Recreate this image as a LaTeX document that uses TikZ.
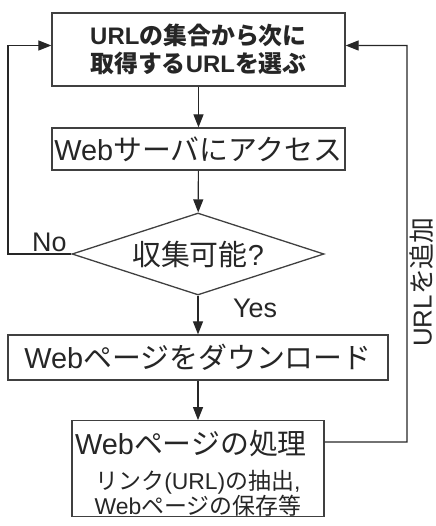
\documentclass[tikz,border=0pt]{standalone}
\usepackage{fontspec}
\setmainfont{Liberation Sans}
\newfontfamily\jpfont{Noto Sans CJK JP}
\newcommand{\jtxt}[1]{{\jpfont #1}}
\usetikzlibrary{shapes.geometric,arrows.meta,calc}
\begin{document}
\begin{tikzpicture}[x=1bp,y=-1bp,
  line/.style={draw=black!85,line width=1.2bp},
  arr/.style={line,-{Triangle[length=13bp,width=10bp]}},
  stepbox/.style={draw=black!75,line width=1.3bp,fill=white,inner sep=0pt,
    align=center,text=black!85},
  big/.style={font=\fontsize{29}{31}\selectfont},
  lbl/.style={font=\fontsize{27}{29}\selectfont,text=black!85,inner sep=0pt}]
\useasboundingbox (0,0) rectangle (436,526);

% process steps
\node[stepbox,minimum width=293bp,minimum height=73bp,
      font=\fontsize{24}{28}\selectfont\bfseries] (b1) at (198.5,49.5)
  {URL\jtxt{の集合から次に}\\\jtxt{取得する}URL\jtxt{を選ぶ}};
\node[stepbox,big,minimum width=293bp,minimum height=42bp] (b2) at (198.5,149)
  {Web\jtxt{サーバにアクセス}};
\node[draw=black!75,line width=1.3bp,diamond,aspect=3,inner sep=0pt,
      minimum width=252bp,minimum height=82bp,big,text=black!85] (dia) at (198,254)
  {\jtxt{収集可能}?};
\node[stepbox,big,minimum width=380bp,minimum height=45bp] (b3) at (198,357.5)
  {Web\jtxt{ページをダウンロード}};
\node[stepbox,minimum width=252bp,minimum height=95bp,
      font=\fontsize{23}{20}\selectfont] (b4) at (198,468.5)
  {{\fontsize{29}{31}\selectfont\rule{0pt}{34bp}Web\jtxt{ページの処理}\kern14bp}\\[12bp]
   \jtxt{リンク}(URL)\jtxt{の抽出},\\Web\jtxt{ページの保存等}};

% main flow
\draw[arr] (b1) -- (b2);
\draw[arr] (b2) -- (dia);
\draw[arr] (dia) -- (b3);
\draw[arr] (b3) -- (b4);

% loop back when the page cannot be collected
\coordinate (lft) at (8,254);
\draw[arr] (dia.west) -- (lft) |- ([yshift=4bp]b1.west);
\node[lbl,anchor=south west] (no) at (32,252) {No};
\node[lbl,anchor=center] (yes) at (255,308) {Yes};

% extracted URLs go back into the set
\coordinate (rgt) at (407,442);
\draw[arr] ([yshift=26.5bp]b4.east) -- (rgt) |- ([yshift=4bp]b1.east);
\node[font=\fontsize{26}{28}\selectfont,text=black!85,rotate=90,inner sep=0pt,
      anchor=base] (add) at (431.5,282) {URL\jtxt{を追加}};
\end{tikzpicture}
\end{document}
